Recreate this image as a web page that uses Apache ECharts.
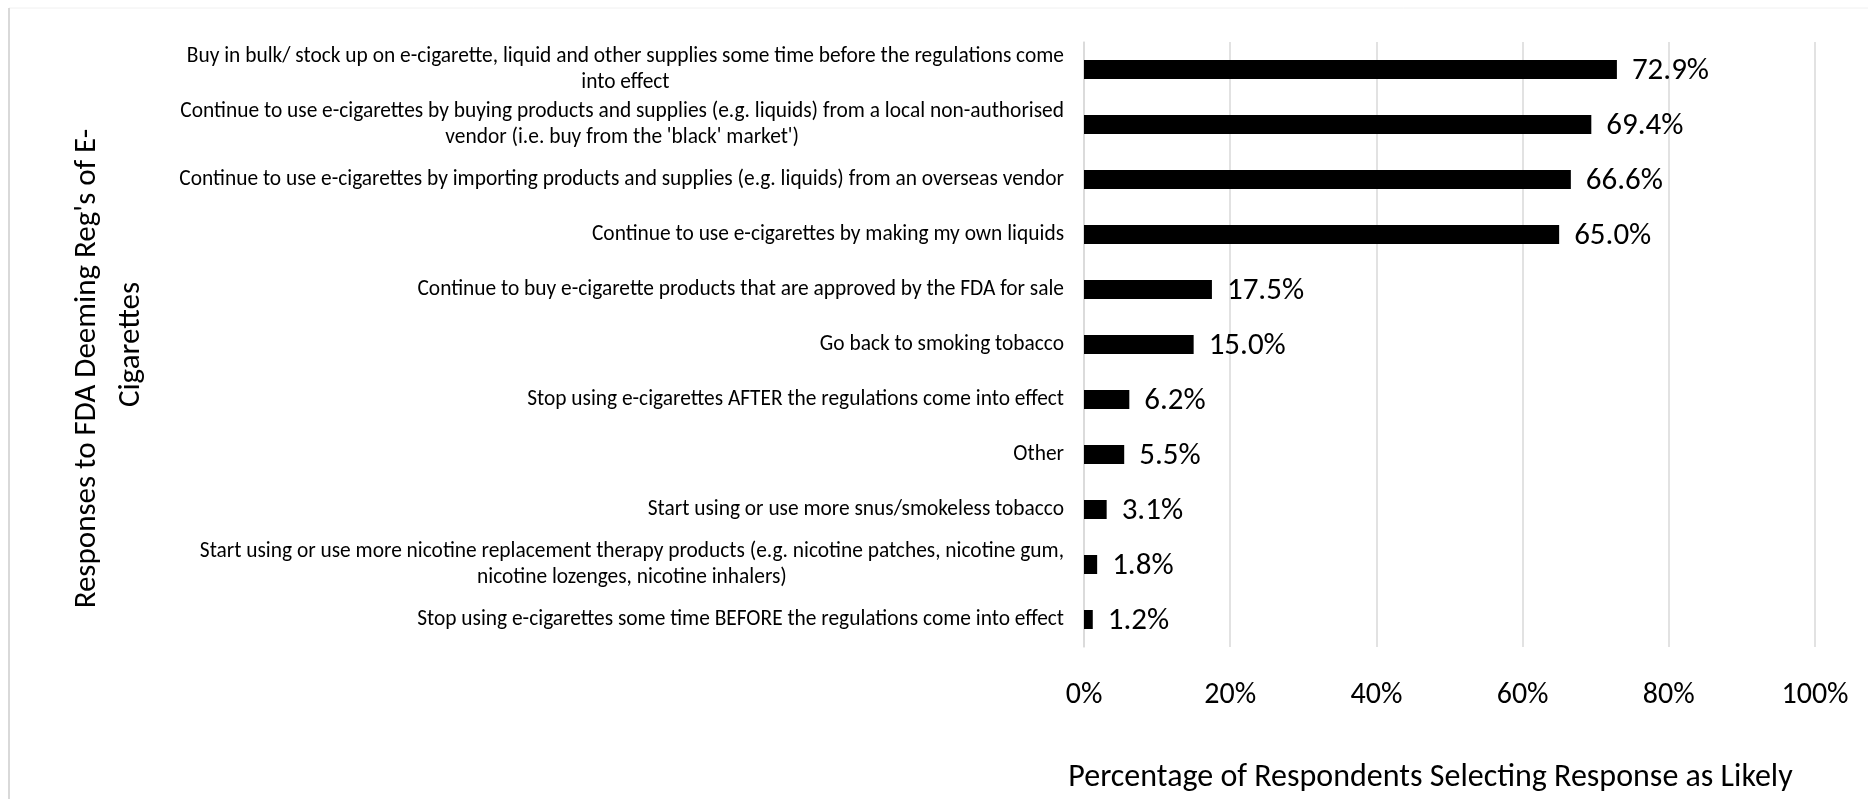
<!DOCTYPE html>
<html>
<head>
<meta charset="utf-8">
<title>Responses to FDA Deeming Regulations</title>
<script src="https://cdn.jsdelivr.net/npm/echarts@6/dist/echarts.min.js"></script>
<style>
    html, body { margin: 0; padding: 0; background: #fff; }
    #chart { width: 1868px; height: 799px; }
</style>
</head>
<body>
<div id="chart"></div>
<script>
    // responses, top to bottom (line breaks where the original wraps them)
    var responses = [
        "Buy in bulk/ stock up on e-cigarette, liquid and other supplies some time before the regulations come\ninto effect",
        "Continue to use e-cigarettes by buying products and supplies (e.g. liquids) from a local non-authorised\nvendor (i.e. buy from the 'black' market')",
        "Continue to use e-cigarettes by importing products and supplies (e.g. liquids) from an overseas vendor",
        "Continue to use e-cigarettes by making my own liquids",
        "Continue to buy e-cigarette products that are approved by the FDA for sale",
        "Go back to smoking tobacco",
        "Stop using e-cigarettes AFTER the regulations come into effect",
        "Other",
        "Start using or use more snus/smokeless tobacco",
        "Start using or use more nicotine replacement therapy products (e.g. nicotine patches, nicotine gum,\nnicotine lozenges, nicotine inhalers)",
        "Stop using e-cigarettes some time BEFORE the regulations come into effect"
    ]
    // % of respondents selecting the response as likely
    var percentLikely = [72.9, 69.4, 66.6, 65.0, 17.5, 15.0, 6.2, 5.5, 3.1, 1.8, 1.2]
    var xTicks = [0, 20, 40, 60, 80, 100]

    var font = "Calibri, Carlito, Lato, sans-serif"
    var grey = '#d9d9d9'

    var myChart = echarts.init(document.getElementById('chart'))
    var option = {
        backgroundColor: '#fff',
        animation: false,
        grid: {
            left: 1084,
            right: 53,
            top: 42,
            bottom: 145
        },
        xAxis: {
            type: 'value',
            min: xTicks[0],
            max: xTicks[xTicks.length - 1],
            interval: xTicks[1] - xTicks[0],
            name: 'Percentage of Respondents Selecting Response as Likely',
            nameLocation: 'middle',
            nameGap: 115,
            nameTextStyle: {
                fontFamily: font,
                fontSize: 32,
                color: '#000',
                padding: [0, 38, 0, 0]
            },
            axisLine: { show: false },
            axisTick: { show: false },
            axisLabel: {
                formatter: '{value}%',
                fontFamily: font,
                fontSize: 30,
                color: '#000',
                margin: 33
            },
            splitLine: {
                lineStyle: { color: grey, width: 1.5 }
            }
        },
        yAxis: {
            type: 'category',
            inverse: true,
            data: responses,
            name: "{a|Responses to FDA Deeming Reg's of E-}\n{b|Cigarettes}",
            nameLocation: 'middle',
            nameRotate: 90,
            nameGap: 931,
            nameTextStyle: {
                fontFamily: font,
                fontSize: 31,
                lineHeight: 44,
                color: '#000',
                rich: {
                    a: { fontFamily: font, fontSize: 31, lineHeight: 44, color: '#000', align: 'center', padding: [0, 48, 0, 0] },
                    b: { fontFamily: font, fontSize: 31, lineHeight: 44, color: '#000', align: 'center' }
                }
            },
            axisLine: {
                show: true,
                lineStyle: { color: grey, width: 1.5 }
            },
            axisTick: { show: false },
            axisLabel: {
                margin: 20,
                fontFamily: font,
                fontSize: 21.4,
                lineHeight: 26,
                color: '#000',
                // wrapped lines are centred on each other, block right aligned
                formatter: function (v) {
                    return v.split('\n').map(function (s) { return '{c|' + s + '}' }).join('\n')
                },
                rich: {
                    c: {
                        align: 'center',
                        fontFamily: font,
                        fontSize: 21.4,
                        lineHeight: 26,
                        color: '#000'
                    }
                }
            }
        },
        series: [
            {
                type: 'bar',
                data: percentLikely,
                barWidth: 19,
                itemStyle: { color: '#000' },
                label: {
                    show: true,
                    position: 'right',
                    distance: 15,
                    offset: [0, 2],
                    fontFamily: font,
                    fontSize: 31,
                    color: '#000',
                    formatter: function (p) { return p.value.toFixed(1) + '%' }
                }
            }
        ],
        // chart area frame (left and top edges)
        graphic: [
            {
                type: 'line',
                shape: { x1: 9, y1: 8, x2: 1868, y2: 8 },
                style: { stroke: '#f0f0f0', lineWidth: 1 }
            },
            {
                type: 'line',
                shape: { x1: 9, y1: 8, x2: 9, y2: 799 },
                style: { stroke: grey, lineWidth: 2 }
            }
        ]
    }
    myChart.setOption(option)
</script>
</body>
</html>
